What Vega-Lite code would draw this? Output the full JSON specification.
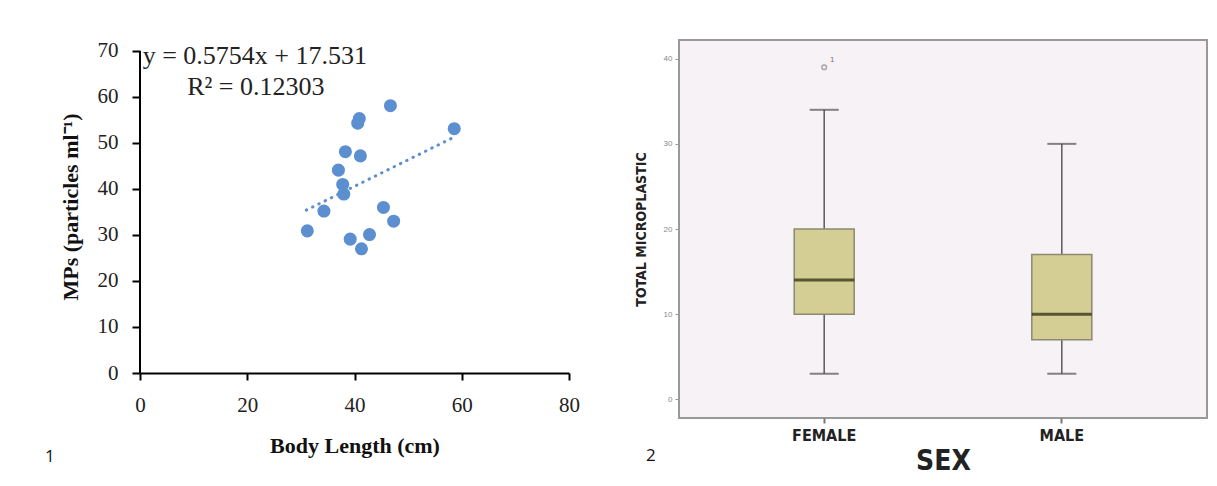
{
  "$schema": "https://vega.github.io/schema/vega-lite/v6.json",
  "background": "white",
  "padding": {"left": 45, "top": 39, "right": 10, "bottom": 5},
  "spacing": 53,
  "config": {"axis": {"grid": false}},
  "hconcat": [
    {
      "width": 429,
      "height": 333,
      "view": {"stroke": null},
      "title": {"text": "1", "orient": "bottom", "anchor": "start", "frame": "bounds", "font": "Open Sans", "fontSize": 17, "fontWeight": "normal", "color": "#111", "offset": -7, "dx": -14},
      "layer": [
        {
          "data": {"values": [
            {"len": 31.2, "mps": 30.9},
            {"len": 34.3, "mps": 35.2},
            {"len": 37.0, "mps": 44.1},
            {"len": 37.8, "mps": 41.0},
            {"len": 38.0, "mps": 38.9},
            {"len": 38.3, "mps": 48.1},
            {"len": 39.2, "mps": 29.1},
            {"len": 40.6, "mps": 54.3},
            {"len": 40.9, "mps": 55.3},
            {"len": 41.1, "mps": 47.2},
            {"len": 41.3, "mps": 27.0},
            {"len": 42.8, "mps": 30.1},
            {"len": 45.4, "mps": 36.0},
            {"len": 46.7, "mps": 58.1},
            {"len": 47.3, "mps": 33.0},
            {"len": 58.6, "mps": 53.1}
          ]},
          "mark": {"type": "point", "filled": true, "opacity": 1, "size": 170, "color": "#5B8FCF"},
          "encoding": {
            "x": {"field": "len", "type": "quantitative",
              "scale": {"domain": [0, 80], "nice": false},
              "axis": {"values": [0, 20, 40, 60, 80], "labelFlush": false, "title": "Body Length (cm)", "domainColor": "#000", "domainWidth": 2, "tickColor": "#000", "tickWidth": 2, "tickSize": 7, "labelFont": "Liberation Serif", "labelFontSize": 21, "labelColor": "#222", "labelPadding": 14, "titleFont": "Liberation Serif", "titleFontSize": 22, "titleFontWeight": "bold", "titleColor": "#111", "titlePadding": 20}},
            "y": {"field": "mps", "type": "quantitative",
              "scale": {"domain": [0, 72.39], "nice": false},
              "axis": {"values": [0, 10, 20, 30, 40, 50, 60, 70], "labelFlush": false, "title": "MPs (particles ml⁻¹)", "domain": false, "tickColor": "#000", "tickWidth": 2, "tickSize": 8, "labelFont": "Liberation Serif", "labelFontSize": 21, "labelColor": "#222", "labelPadding": 14, "titleFont": "Liberation Serif", "titleFontSize": 22, "titleFontWeight": "bold", "titleColor": "#111", "titlePadding": 15}}
          }
        },
        {
          "data": {"values": [{"lo": 0, "hi": 70}]},
          "mark": {"type": "rule", "color": "#000", "strokeWidth": 2},
          "encoding": {
            "x": {"datum": 0, "type": "quantitative"},
            "y": {"field": "lo", "type": "quantitative"},
            "y2": {"field": "hi"}
          }
        },
        {
          "data": {"values": [
            {"len": 31.0, "fit": 35.4},
            {"len": 58.6, "fit": 51.3}
          ]},
          "mark": {"type": "line", "color": "#5B8FCF", "strokeWidth": 3, "strokeDash": [0.5, 6.5], "strokeCap": "round"},
          "encoding": {
            "x": {"field": "len", "type": "quantitative"},
            "y": {"field": "fit", "type": "quantitative"}
          }
        },
        {
          "data": {"values": [{"label": "y = 0.5754x + 17.531"}]},
          "mark": {"type": "text", "align": "left", "baseline": "middle", "font": "Liberation Serif", "fontSize": 26, "color": "#222"},
          "encoding": {
            "x": {"datum": 0.5, "type": "quantitative"},
            "y": {"datum": 68.9, "type": "quantitative"},
            "text": {"field": "label", "type": "nominal"}
          }
        },
        {
          "data": {"values": [{"label": "R² = 0.12303"}]},
          "mark": {"type": "text", "align": "left", "baseline": "middle", "font": "Liberation Serif", "fontSize": 26, "color": "#222"},
          "encoding": {
            "x": {"datum": 8.8, "type": "quantitative"},
            "y": {"datum": 62.2, "type": "quantitative"},
            "text": {"field": "label", "type": "nominal"}
          }
        }
      ]
    },
    {
      "width": 528,
      "height": 378,
      "view": {"stroke": "#999", "strokeWidth": 2, "fill": "#F7F2F5"},
      "title": {"text": "2", "orient": "bottom", "anchor": "start", "frame": "bounds", "font": "Open Sans", "fontSize": 17, "fontWeight": "normal", "color": "#111", "offset": -27, "dx": 12},
      "encoding": {
        "x": {"field": "sex", "type": "nominal",
          "scale": {"domain": ["FEMALE", "MALE"], "paddingInner": 0.7475, "paddingOuter": 0.4848},
          "axis": {"title": "SEX", "labelAngle": 0, "domain": false, "tickColor": "#777", "tickWidth": 2, "tickSize": 5, "labelFont": "Liberation Sans Narrow, DejaVu Sans Condensed, Roboto, sans-serif", "labelFontWeight": "bold", "labelFontSize": 16, "labelColor": "#222", "labelPadding": 4, "titleFont": "Liberation Sans Narrow, DejaVu Sans Condensed, Roboto, sans-serif", "titleFontWeight": "bold", "titleFontSize": 28, "titleColor": "#222", "titlePadding": 4}}
      },
      "layer": [
        {
          "data": {"name": "box"},
          "mark": {"type": "rule", "color": "#5a5a5a", "strokeWidth": 1.5},
          "encoding": {
            "y": {"field": "lower", "type": "quantitative",
              "scale": {"domain": [-2.2, 42.2], "nice": false, "zero": false},
              "axis": {"values": [0, 10, 20, 30, 40], "title": "TOTAL MICROPLASTIC", "domain": false, "tickColor": "#999", "tickSize": 4, "labelFont": "Liberation Sans", "labelFontSize": 8, "labelColor": "#888", "labelPadding": 3, "titleFont": "Liberation Sans Narrow, DejaVu Sans Condensed, Roboto, sans-serif", "titleFontWeight": "bold", "titleFontSize": 14, "titleColor": "#222", "titlePadding": 15}},
            "y2": {"field": "upper"}
          }
        },
        {
          "data": {"name": "box"},
          "mark": {"type": "tick", "color": "#505050", "thickness": 2, "size": 29},
          "encoding": {"y": {"field": "lower", "type": "quantitative"}}
        },
        {
          "data": {"name": "box"},
          "mark": {"type": "tick", "color": "#505050", "thickness": 2, "size": 29},
          "encoding": {"y": {"field": "upper", "type": "quantitative"}}
        },
        {
          "data": {"name": "box"},
          "mark": {"type": "bar", "fill": "#D5CE94", "stroke": "#8A8A70", "strokeWidth": 1.5},
          "encoding": {
            "y": {"field": "q1", "type": "quantitative"},
            "y2": {"field": "q3"}
          }
        },
        {
          "data": {"name": "box"},
          "mark": {"type": "tick", "color": "#22220A", "thickness": 3, "size": 60},
          "encoding": {"y": {"field": "median", "type": "quantitative"}}
        },
        {
          "data": {"name": "outliers"},
          "mark": {"type": "point", "shape": "circle", "filled": false, "size": 22, "stroke": "#888", "strokeWidth": 1.5},
          "encoding": {"y": {"field": "value", "type": "quantitative"}}
        },
        {
          "data": {"name": "outliers"},
          "mark": {"type": "text", "dx": 8, "dy": -7, "fontSize": 8, "font": "Liberation Sans", "color": "#777"},
          "encoding": {"y": {"field": "value", "type": "quantitative"}, "text": {"field": "case", "type": "nominal"}}
        }
      ]
    }
  ],
  "datasets": {
    "box": [
      {"sex": "FEMALE", "lower": 3, "q1": 10, "median": 14, "q3": 20, "upper": 34},
      {"sex": "MALE", "lower": 3, "q1": 7, "median": 10, "q3": 17, "upper": 30}
    ],
    "outliers": [
      {"sex": "FEMALE", "value": 39, "case": "1"}
    ]
  }
}
